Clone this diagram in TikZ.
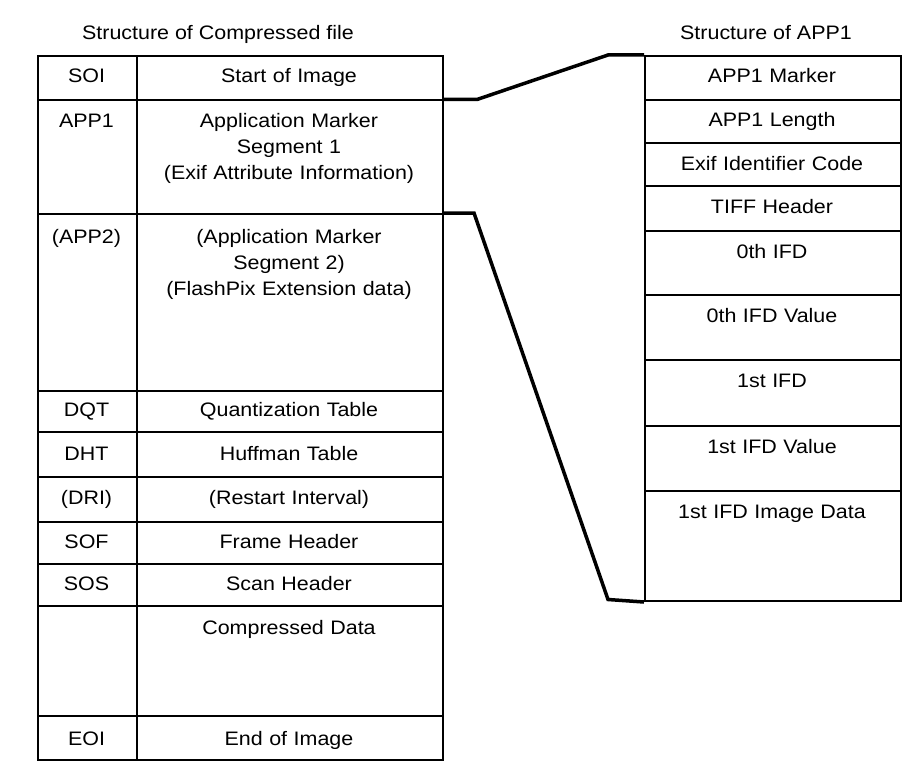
\documentclass[tikz,border=0pt]{standalone}
\usepackage{fontspec}
\setmainfont[FakeStretch=1.1]{Liberation Sans}
\newcommand\lrow[3]{%
  \node[cell, minimum width=99pt, minimum height=#3pt] (#1a) at (37,#2) {};
  \node[cell, minimum width=306pt, minimum height=#3pt] (#1b) at (136,#2) {};
}
\newcommand\rrow[4]{%
  \node[cell, minimum width=256pt, minimum height=#3pt] (#1) at (644,#2) {};
  \node[txt, text width=256pt] (#1t) at (772,#2+28) {#4};
}
\begin{document}
\begin{tikzpicture}[x=1pt,y=-1pt,
  cell/.style={draw, line width=2pt, rectangle, inner sep=0pt, anchor=north west},
  txt/.style={anchor=base, inner sep=0pt, align=center, font={\fontsize{19.5}{26}\selectfont}},
  conn/.style={line width=3.5pt, line join=miter}]
\useasboundingbox (0,0) rectangle (920,765);
% titles
\node[txt] (titleL) at (218,40) {Structure of Compressed file};
\node[txt] (titleR) at (766,40) {Structure of APP1};
% left table cells
\lrow{soi}{55}{44.5}
\lrow{appA}{99.5}{113.5}
\lrow{appB}{213}{177}
\lrow{dqt}{390}{41}
\lrow{dht}{431}{45}
\lrow{dri}{476}{44.5}
\lrow{sof}{520.5}{42}
\lrow{sos}{562.5}{42.5}
\lrow{cd}{605}{110}
\lrow{eoi}{715}{43.5}
% left texts
\node[txt, text width=99pt] (soiat) at (86.5,83) {SOI};
\node[txt, text width=306pt] (soibt) at (289,83) {Start of Image};
\node[txt, text width=99pt] (appAat) at (86.5,127.5) {APP1};
\node[txt, text width=306pt] (appAbt) at (289,127.5) {Application Marker\\Segment 1\\(Exif Attribute Information)};
\node[txt, text width=99pt] (appBat) at (86.5,243) {(APP2)};
\node[txt, text width=306pt] (appBbt) at (289,243) {(Application Marker\\Segment 2)\\(FlashPix Extension data)};
\node[txt, text width=99pt] (dqtat) at (86.5,416) {DQT};
\node[txt, text width=306pt] (dqtbt) at (289,416) {Quantization Table};
\node[txt, text width=99pt] (dhtat) at (86.5,460) {DHT};
\node[txt, text width=306pt] (dhtbt) at (289,460) {Huffman Table};
\node[txt, text width=99pt] (driat) at (86.5,504) {(DRI)};
\node[txt, text width=306pt] (dribt) at (289,504) {(Restart Interval)};
\node[txt, text width=99pt] (sofat) at (86.5,548) {SOF};
\node[txt, text width=306pt] (sofbt) at (289,548) {Frame Header};
\node[txt, text width=99pt] (sosat) at (86.5,590) {SOS};
\node[txt, text width=306pt] (sosbt) at (289,590) {Scan Header};
\node[txt, text width=306pt] (cdbt) at (289,634) {Compressed Data};
\node[txt, text width=99pt] (eoiat) at (86.5,745) {EOI};
\node[txt, text width=306pt] (eoibt) at (289,745) {End of Image};
% right table
\rrow{mk}{55}{44}{APP1 Marker}
\rrow{len}{99}{43}{APP1 Length}
\rrow{eic}{142}{43}{Exif Identifier Code}
\rrow{tiff}{185}{45}{TIFF Header}
\rrow{ifdA}{230}{64}{0th IFD}
\rrow{ifdAv}{294}{65}{0th IFD Value}
\rrow{ifdB}{359}{66}{1st IFD}
\rrow{ifdBv}{425}{65}{1st IFD Value}
\rrow{img}{490}{110}{1st IFD Image Data}
% connectors
\coordinate (k1) at (477,99.5);
\coordinate (k2) at (608,55);
\coordinate (k3) at (474,213);
\coordinate (k4) at (608,599.5);
\draw[conn] (appAb.north east) -- (k1) -- (k2) -- (mk.north west);
\draw[conn] (appBb.north east) -- (k3) -- (k4) -- (img.south west);
\end{tikzpicture}
\end{document}
